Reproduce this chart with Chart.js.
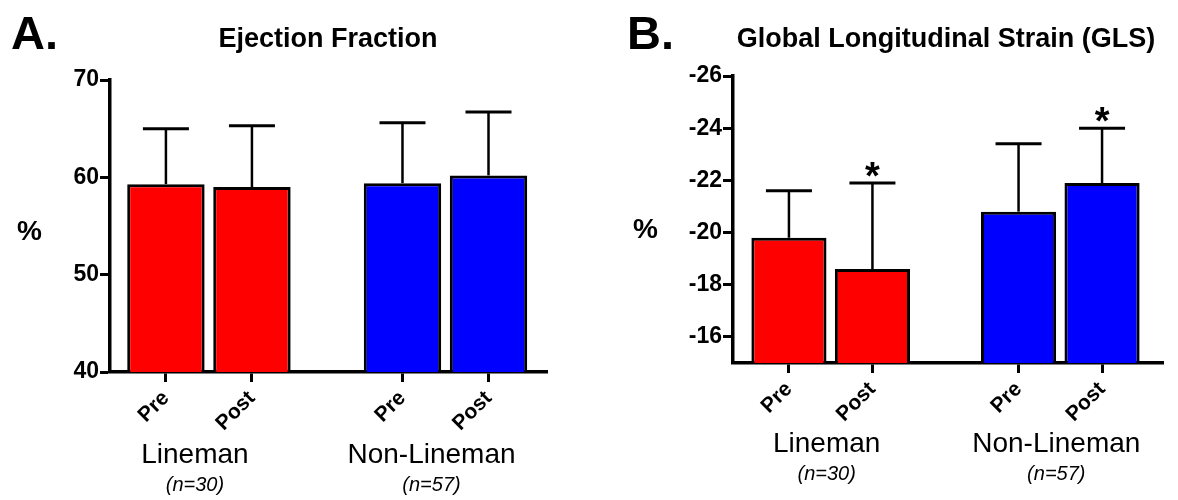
<!DOCTYPE html>
<html>
<head>
<meta charset="utf-8">
<script src="https://cdn.jsdelivr.net/npm/chart.js@4.4.1/dist/chart.umd.min.js"></script>
<style>
  body { margin: 0; background: #fff; }
  #wrap { position: relative; width: 1178px; height: 500px; }
  canvas { position: absolute; top: 0; }
</style>
</head>
<body>
<div id="wrap">
  <canvas id="ef" width="589" height="500" style="left:0"></canvas>
  <canvas id="gls" width="589" height="500" style="left:589px"></canvas>
</div>
<script>
const categories = ['Pre', 'Post', 'Pre', 'Post'];
const groupNames = ['Lineman', 'Non-Lineman'];
const groupSizes = ['(n=30)', '(n=57)'];
const groupOf = [0, 0, 1, 1];

// Ejection fraction, mean and SD (%)
const efMean = [59.3, 59.0, 59.4, 60.2];
const efSd = [5.7, 6.3, 6.2, 6.5];

// GLS, mean and SD (%)
const glsMean = [-19.8, -18.6, -20.8, -21.9];
const glsSd = [1.8, 3.3, 2.6, 2.1];
const glsSignificant = [false, true, false, true];

const groupGap = 0.75; // extra room between the two groups, in bar slots
const xOf = i => i + 1 + groupOf[i] * groupGap;
const groupColors = ['#ff0000', '#0000ff'];
const FONT = '"Liberation Sans", Arial, Helvetica, sans-serif';

const decor = {
    id: 'decor',
    afterDatasetsDraw(chart, args, o) {
        const ctx = chart.ctx;
        const xs = chart.scales.x, ys = chart.scales.y;
        ctx.save();
        ctx.strokeStyle = '#000';
        ctx.fillStyle = '#000';
        o.mean.forEach((m, i) => {
            const px = xs.getPixelForValue(xOf(i));
            const y0 = ys.getPixelForValue(m);
            const y1 = ys.getPixelForValue(m + o.dir * o.sd[i]);
            ctx.lineWidth = 2.5;
            ctx.beginPath(); ctx.moveTo(px, y0); ctx.lineTo(px, y1); ctx.stroke();
            ctx.lineWidth = 3;
            ctx.beginPath(); ctx.moveTo(px - 23, y1); ctx.lineTo(px + 23, y1); ctx.stroke();
            if (o.sig && o.sig[i]) {
                ctx.font = 'bold 38px ' + FONT;
                ctx.textAlign = 'center';
                ctx.textBaseline = 'alphabetic';
                ctx.fillText('*', px, y1 + 6);
            }
        });
        ctx.restore();
    },
    afterDraw(chart, args, o) {
        const ctx = chart.ctx;
        const xs = chart.scales.x;
        ctx.save();
        ctx.fillStyle = '#000';
        ctx.textBaseline = 'alphabetic';

        ctx.textAlign = 'left';
        ctx.font = 'bold 47px ' + FONT;
        ctx.fillText(o.letter, o.letterX, 49);

        ctx.textAlign = 'center';
        ctx.font = 'bold 27px ' + FONT;
        ctx.fillText(o.title, o.titleX, 47);

        ctx.textAlign = 'left';
        ctx.font = 'bold 28px ' + FONT;
        ctx.fillText('%', o.pctX, o.pctY);

        ctx.textAlign = 'center';
        groupNames.forEach((name, g) => {
            const idx = groupOf.map((v, i) => v === g ? i : -1).filter(i => i >= 0);
            const cx = (xs.getPixelForValue(xOf(idx[0])) + xs.getPixelForValue(xOf(idx[idx.length - 1]))) / 2 + o.groupShift;
            ctx.font = '28px ' + FONT;
            ctx.fillText(name, cx, o.groupY);
            ctx.font = 'italic 20px ' + FONT;
            ctx.fillText(groupSizes[g], cx, o.groupY + 28);
        });
        ctx.restore();
    }
};

function makeChart(id, mean, yOpts, layout, decorOpts) {
    return new Chart(document.getElementById(id), {
        type: 'bar',
        data: {
            datasets: [{
                data: mean.map((v, i) => ({ x: xOf(i), y: v })),
                backgroundColor: mean.map((v, i) => groupColors[groupOf[i]]),
                borderColor: '#000',
                borderWidth: 3,
                borderSkipped: 'start',
                barPercentage: 0.9,
                categoryPercentage: 1
            }]
        },
        options: {
            responsive: false,
            animation: false,
            devicePixelRatio: 1,
            layout: { padding: { top: layout.top, right: layout.right, left: 0, bottom: 0 } },
            plugins: { legend: { display: false }, tooltip: { enabled: false }, decor: decorOpts },
            scales: {
                x: {
                    type: 'linear',
                    offset: false,
                    min: layout.xMin,
                    max: layout.xMax,
                    afterBuildTicks: s => { s.ticks = categories.map((c, i) => ({ value: xOf(i) })); },
                    afterFit: s => { s.height = layout.xHeight; },
                    ticks: {
                        autoSkip: false,
                        minRotation: 45,
                        maxRotation: 45,
                        padding: 4,
                        color: '#000',
                        font: { family: FONT, size: 21, weight: 'bold' },
                        callback: (v, i) => categories[i]
                    },
                    grid: { offset: false, drawOnChartArea: false, drawTicks: true, tickLength: 10, tickWidth: 3, tickColor: '#000', color: '#000' },
                    border: { display: true, color: '#000', width: 3.5 }
                },
                y: Object.assign({
                    afterFit: s => { s.width = layout.yWidth; },
                    grid: { drawOnChartArea: false, drawTicks: true, tickLength: 10, tickWidth: 3, tickColor: '#000', color: '#000' },
                    border: { display: true, color: '#000', width: 3.5 }
                }, yOpts)
            }
        },
        plugins: [decor]
    });
}

makeChart('ef', efMean,
    {
        min: 40, max: 70,
        ticks: { stepSize: 10, padding: 1, color: '#000', font: { family: FONT, size: 23, weight: 'bold' } }
    },
    { top: 80, right: 42, xHeight: 128, yWidth: 110, xMin: 0.35, xMax: 5.43 },
    { mean: efMean, sd: efSd, dir: 1, letter: 'A.', letterX: 11, title: 'Ejection Fraction', titleX: 328,
      pctX: 17, pctY: 240, groupY: 463, groupShift: -14 });

makeChart('gls', glsMean,
    {
        min: -26, max: -15, reverse: true,
        afterBuildTicks: s => { s.ticks = s.ticks.filter(t => t.value % 2 === 0); },
        ticks: { stepSize: 2, padding: 1, color: '#000', font: { family: FONT, size: 23, weight: 'bold' } }
    },
    { top: 76, right: 15, xHeight: 137, yWidth: 144, xMin: 0.33, xMax: 5.48 },
    { mean: glsMean, sd: glsSd, dir: -1, sig: glsSignificant, letter: 'B.', letterX: 38, title: 'Global Longitudinal Strain (GLS)', titleX: 357,
      pctX: 44, pctY: 238, groupY: 452, groupShift: -4 });
</script>
</body>
</html>
